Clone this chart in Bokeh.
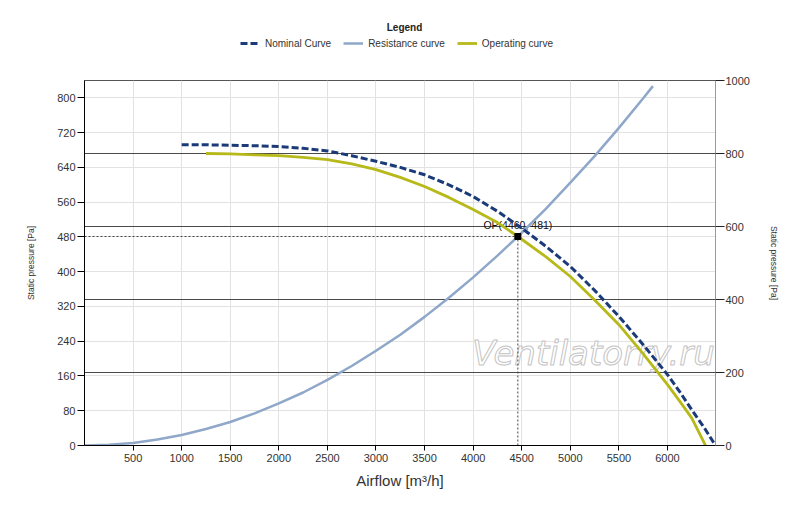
from bokeh.plotting import figure
from bokeh.layouts import column
from bokeh.models import (Range1d, LinearAxis, FixedTicker, Grid, Legend,
                          LegendItem, Label, ColumnDataSource)
from bokeh.embed import file_html
from bokeh.resources import INLINE
from bokeh.core.properties import value

# ---------------- data ----------------
nominal_q = [1000, 1250, 1500, 1750, 2000, 2250, 2500, 2750, 3000, 3250, 3500,
             3750, 4000, 4250, 4500, 4750, 5000, 5250, 5500, 5750, 6000, 6125,
             6250, 6375, 6494]
nominal_p = [692, 692, 691, 690, 688, 684, 678, 667, 654, 640, 623,
             600, 573, 539, 500, 458, 412, 357, 297, 232, 163, 124,
             82, 42, 0]

resist_q = [0, 250, 500, 750, 1000, 1250, 1500, 1750, 2000, 2250, 2500, 2750,
            3000, 3250, 3500, 3750, 4000, 4250, 4460, 4750, 5000, 5250, 5500,
            5750, 5850]
resist_p = [0, 1.5, 6, 14, 24, 38, 54, 74, 97, 122, 151, 183,
            218, 255, 296, 340, 387, 437, 481, 545, 605, 666, 731,
            799, 827]

operating_q = [1250, 1500, 1750, 2000, 2250, 2500, 2750, 3000, 3250, 3500,
               3750, 4000, 4250, 4460, 4750, 5000, 5250, 5500, 5750, 6000,
               6125, 6250, 6391]
operating_p = [672, 671, 669, 667, 663, 658, 648, 635, 617, 596,
               571, 543, 513, 481, 434, 389, 335, 278, 211, 140,
               102, 63, 0]

op_q = [4460]
op_p = [481]
op_label = ["OP(4460, 481)"]

x_ticks = [500, 1000, 1500, 2000, 2500, 3000, 3500, 4000, 4500, 5000, 5500, 6000]
left_ticks = [0, 80, 160, 240, 320, 400, 480, 560, 640, 720, 800]
right_ticks = [0, 200, 400, 600, 800, 1000]
right_grid_ticks = [200, 400, 600, 800]

x_max = 6494
left_max = 840
right_max = 1000

series_names = ["Nominal Curve", "Resistance curve", "Operating curve"]
series_colors = ["#1b3a78", "#8fa7c9", "#b7b91a"]
legend_title = "Legend"
watermark = "Ventilatorry.ru"

FONT = "Liberation Sans"
TXT = "#333333"

# ---------------- main figure ----------------
p = figure(width=784, height=427, output_backend="svg", toolbar_location=None,
           x_range=Range1d(0, x_max), y_range=Range1d(0, left_max),
           min_border_left=84, min_border_right=69, min_border_top=8,
           min_border_bottom=54, background_fill_color="white",
           border_fill_color="white")
p.extra_y_ranges = {"right": Range1d(0, right_max)}
p.outline_line_color = "#555555"
p.outline_line_width = 1

# x axis
xa = p.xaxis[0]
xa.ticker = FixedTicker(ticks=x_ticks)
xa.axis_label = "Airflow [m³/h]"
xa.axis_label_text_font = FONT
xa.axis_label_text_font_size = "15px"
xa.axis_label_text_font_style = "normal"
xa.axis_label_text_color = TXT
xa.axis_label_standoff = 7
xa.major_label_text_font = FONT
xa.major_label_text_font_size = "11px"
xa.major_label_text_color = TXT
xa.major_label_standoff = 3
xa.major_tick_out = 5
xa.major_tick_in = 0
xa.minor_tick_out = 0
xa.minor_tick_in = 0
xa.axis_line_color = "black"
xa.major_tick_line_color = "black"

# left axis
ya = p.yaxis[0]
ya.ticker = FixedTicker(ticks=left_ticks)
ya.axis_label = "Static pressure [Pa]"
ya.axis_label_text_font = FONT
ya.axis_label_text_font_size = "8.5px"
ya.axis_label_text_font_style = "normal"
ya.axis_label_text_color = TXT
ya.axis_label_standoff = 18
ya.major_label_text_font = FONT
ya.major_label_text_font_size = "11px"
ya.major_label_text_color = TXT
ya.major_label_standoff = 2
ya.major_tick_out = 7
ya.major_tick_in = 0
ya.minor_tick_out = 0
ya.minor_tick_in = 0
ya.axis_line_color = "black"
ya.major_tick_line_color = "black"

# right axis
ra = LinearAxis(y_range_name="right", ticker=FixedTicker(ticks=right_ticks),
                axis_label="Static pressure [Pa]")
ra.axis_label_text_font = FONT
ra.axis_label_text_font_size = "8.5px"
ra.axis_label_text_font_style = "normal"
ra.axis_label_text_color = TXT
ra.axis_label_standoff = 16
ra.major_label_text_font = FONT
ra.major_label_text_font_size = "11px"
ra.major_label_text_color = TXT
ra.major_label_standoff = 1
ra.major_tick_out = 9
ra.major_tick_in = 0
ra.minor_tick_out = 0
ra.minor_tick_in = 0
ra.axis_line_color = "#999999"
ra.major_tick_line_color = "#222222"
p.add_layout(ra, "right")

# grids
p.xgrid.ticker = FixedTicker(ticks=x_ticks)
p.xgrid.grid_line_color = "#e2e2e2"
p.ygrid.ticker = FixedTicker(ticks=left_ticks)
p.ygrid.grid_line_color = "#e2e2e2"
rgrid = Grid(dimension=1, y_range_name="right",
             ticker=FixedTicker(ticks=right_grid_ticks),
             grid_line_color="#4a4a4a", grid_line_width=1)
p.add_layout(rgrid)

# watermark
wm = Label(x=509, y=92.5, x_units="screen", y_units="screen", text=watermark,
           text_font="DejaVu Sans", text_font_size="34px",
           text_font_style="italic", text_color="white",
           text_outline_color="#c4c4c4", text_align="center",
           text_baseline="middle", level="underlay")
p.add_layout(wm)

# operating point guides
p.line([0, op_q[0]], [op_p[0], op_p[0]], line_color="#444444", line_width=1,
       line_dash="2 2")
p.line([op_q[0], op_q[0]], [0, op_p[0]], line_color="#444444", line_width=1,
       line_dash="2 2")

op_src = ColumnDataSource(dict(x=op_q, y=op_p, t=op_label))
p.text(x="x", y="y", text="t", source=op_src, text_font=value(FONT),
       text_font_size="10.5px", text_color="#111111", text_align="center",
       text_baseline="middle", y_offset=-11)

# curves
p.line(resist_q, resist_p, line_color=series_colors[1], line_width=2.5)
p.line(operating_q, operating_p, line_color=series_colors[2], line_width=2.8)
p.line(nominal_q, nominal_p, line_color=series_colors[0], line_width=3,
       line_dash="7 3")

p.scatter(x="x", y="y", source=op_src, marker="square", size=6,
          fill_color="black", line_color="black")

# ---------------- legend strip above the chart ----------------
# (its frame is aligned with the main frame by the column layout; its ranges
#  lie below all data so only the legend glyphs are visible)
lf = figure(width=784, height=72, output_backend="svg", toolbar_location=None,
            x_range=Range1d(-2, -1), y_range=Range1d(-2, -1), min_border=0,
            background_fill_color="white", border_fill_color="white")
lf.axis.visible = False
lf.grid.visible = False
lf.outline_line_color = None

ln = lf.line(nominal_q, nominal_p, line_color=series_colors[0], line_width=3,
             line_dash="7 3")
lr = lf.line(resist_q, resist_p, line_color=series_colors[1], line_width=2.5)
lo = lf.line(operating_q, operating_p, line_color=series_colors[2],
             line_width=2.8)

legend = Legend(items=[LegendItem(label=series_names[0], renderers=[ln]),
                       LegendItem(label=series_names[1], renderers=[lr]),
                       LegendItem(label=series_names[2], renderers=[lo])],
                location=(156, 23), orientation="horizontal",
                glyph_width=20, glyph_height=12, label_height=12,
                label_standoff=5, spacing=12, padding=0, margin=0,
                border_line_color=None, background_fill_alpha=0,
                label_text_font=FONT, label_text_font_size="10px",
                label_text_color=TXT)
lf.add_layout(legend)

title = Label(x=320, y=45.5, x_units="screen", y_units="screen",
              text=legend_title, text_font=FONT, text_font_size="10px",
              text_font_style="bold", text_color="#222222",
              text_align="center", text_baseline="middle")
lf.add_layout(title)

layout = column(lf, p, spacing=0)
open("out.html", "w").write(file_html(layout, INLINE))
